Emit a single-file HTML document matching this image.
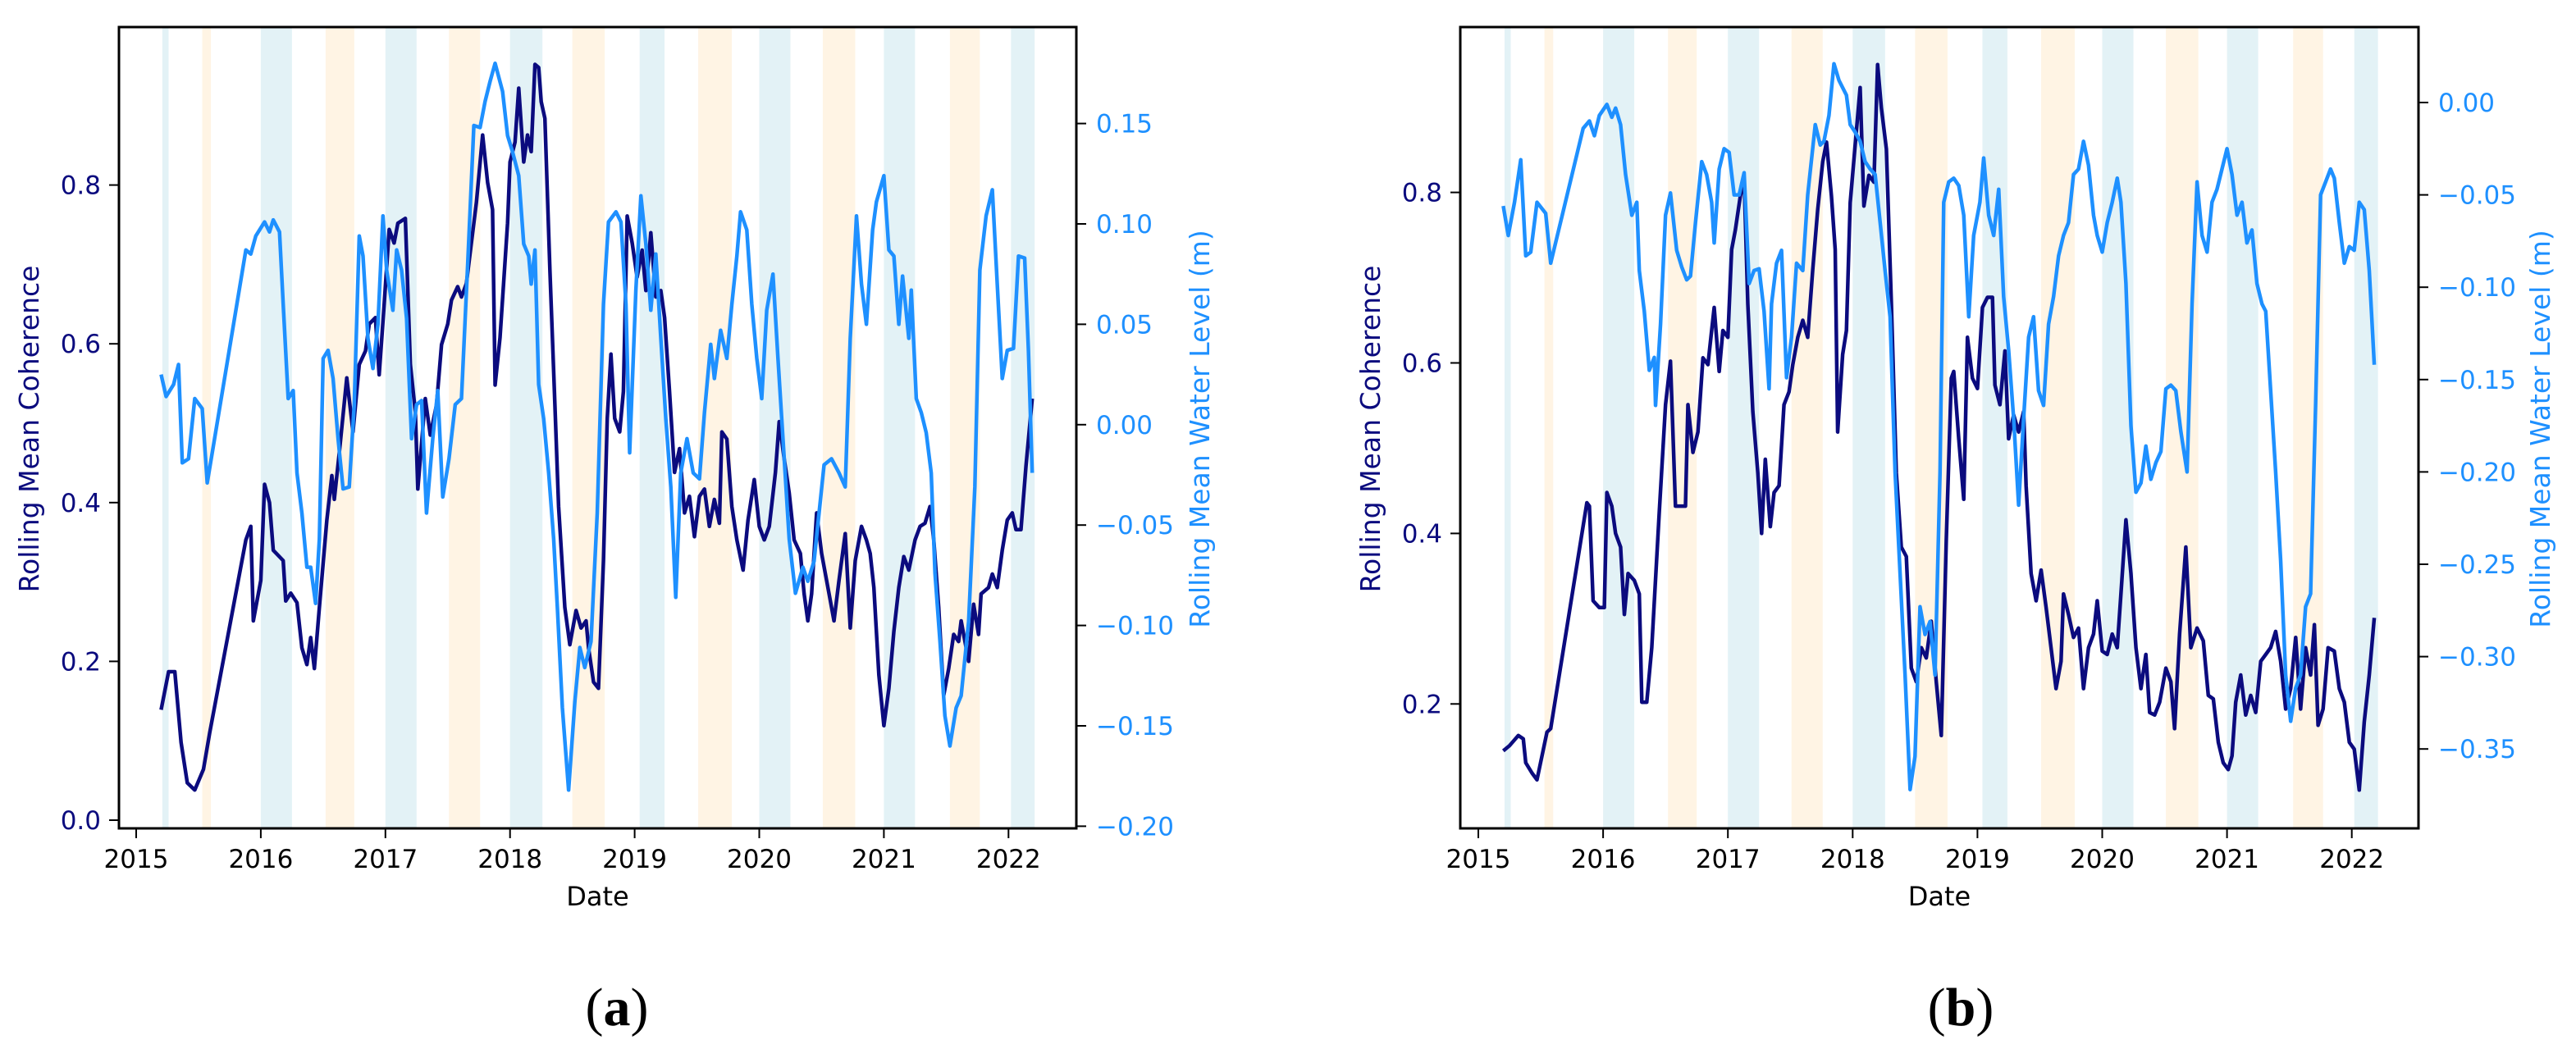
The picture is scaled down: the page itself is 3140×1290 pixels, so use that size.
<!DOCTYPE html>
<html><head><meta charset="utf-8"><style>
html,body{margin:0;padding:0;background:#fff;}
svg{display:block;font-family:"DejaVu Sans","Liberation Sans",sans-serif;}
</style></head><body>
<svg id="fig" width="3140" height="1290" viewBox="0 0 3140 1290" xmlns="http://www.w3.org/2000/svg"></svg>
<script>
// ---------- shared seasonal bands (decimal years) ----------
const cyanBandStart = [2015.21, 2016.0, 2017.0, 2018.0, 2019.04, 2020.0, 2021.0, 2022.02];
const cyanBandEnd   = [2015.26, 2016.25, 2017.25, 2018.26, 2019.24, 2020.25, 2021.25, 2022.21];
const orangeBandStart = [2015.53, 2016.52, 2017.51, 2018.5, 2019.51, 2020.51, 2021.53];
const orangeBandEnd   = [2015.6, 2016.75, 2017.76, 2018.76, 2019.78, 2020.77, 2021.77];
const yearTicks = [2015, 2016, 2017, 2018, 2019, 2020, 2021, 2022];

// ---------- chart (a) ----------
const aCohTicks = [0.0, 0.2, 0.4, 0.6, 0.8];
const aWatTicks = [0.15, 0.10, 0.05, 0.00, -0.05, -0.10, -0.15, -0.20];
const aCohT = [2015.20,2015.26,2015.31,2015.36,2015.41,2015.47,2015.54,2015.59,2015.88,2015.92,2015.94,2016.00,2016.03,2016.07,2016.10,2016.18,2016.20,2016.24,2016.29,2016.33,2016.37,2016.40,2016.43,2016.47,2016.53,2016.57,2016.59,2016.63,2016.69,2016.74,2016.79,2016.84,2016.87,2016.92,2016.95,2016.99,2017.03,2017.07,2017.10,2017.16,2017.20,2017.24,2017.26,2017.32,2017.36,2017.41,2017.45,2017.50,2017.53,2017.58,2017.61,2017.65,2017.73,2017.78,2017.82,2017.86,2017.88,2017.92,2017.98,2018.00,2018.04,2018.07,2018.11,2018.14,2018.17,2018.20,2018.23,2018.25,2018.28,2018.32,2018.36,2018.39,2018.44,2018.48,2018.53,2018.57,2018.61,2018.63,2018.67,2018.71,2018.75,2018.78,2018.81,2018.84,2018.88,2018.91,2018.94,2018.98,2019.02,2019.06,2019.09,2019.13,2019.17,2019.21,2019.24,2019.28,2019.32,2019.36,2019.40,2019.44,2019.48,2019.52,2019.56,2019.60,2019.64,2019.68,2019.70,2019.74,2019.78,2019.82,2019.87,2019.91,2019.96,2020.00,2020.04,2020.08,2020.13,2020.16,2020.20,2020.24,2020.28,2020.33,2020.36,2020.39,2020.42,2020.46,2020.50,2020.56,2020.60,2020.64,2020.69,2020.73,2020.77,2020.82,2020.86,2020.89,2020.92,2020.96,2021.00,2021.04,2021.08,2021.12,2021.16,2021.20,2021.25,2021.29,2021.33,2021.37,2021.40,2021.44,2021.48,2021.52,2021.56,2021.60,2021.62,2021.68,2021.72,2021.76,2021.78,2021.84,2021.87,2021.91,2021.95,2021.99,2022.03,2022.06,2022.10,2022.14,2022.19];
const aCohV = [0.139,0.187,0.187,0.098,0.047,0.038,0.064,0.11,0.353,0.37,0.251,0.302,0.423,0.40,0.34,0.327,0.276,0.286,0.274,0.217,0.196,0.23,0.191,0.268,0.378,0.434,0.404,0.463,0.557,0.489,0.574,0.591,0.625,0.633,0.561,0.650,0.744,0.727,0.752,0.758,0.574,0.514,0.417,0.531,0.485,0.523,0.599,0.625,0.655,0.672,0.659,0.676,0.778,0.863,0.803,0.769,0.548,0.608,0.752,0.829,0.854,0.922,0.829,0.863,0.842,0.952,0.948,0.905,0.884,0.693,0.523,0.395,0.268,0.221,0.264,0.242,0.251,0.217,0.174,0.166,0.327,0.506,0.587,0.506,0.489,0.540,0.761,0.727,0.684,0.718,0.667,0.740,0.659,0.667,0.633,0.540,0.438,0.468,0.387,0.408,0.357,0.408,0.417,0.370,0.404,0.374,0.489,0.480,0.395,0.353,0.315,0.378,0.429,0.370,0.353,0.370,0.438,0.502,0.455,0.412,0.353,0.336,0.285,0.251,0.285,0.387,0.336,0.285,0.251,0.302,0.361,0.242,0.327,0.370,0.353,0.336,0.293,0.183,0.119,0.166,0.238,0.293,0.332,0.315,0.353,0.370,0.374,0.395,0.353,0.268,0.157,0.191,0.234,0.225,0.251,0.200,0.272,0.234,0.285,0.293,0.310,0.293,0.340,0.378,0.387,0.366,0.366,0.446,0.531];
const aWatT = [2015.20,2015.24,2015.30,2015.34,2015.37,2015.42,2015.47,2015.53,2015.57,2015.88,2015.92,2015.96,2016.03,2016.07,2016.10,2016.15,2016.18,2016.22,2016.26,2016.29,2016.33,2016.37,2016.40,2016.44,2016.47,2016.50,2016.54,2016.58,2016.62,2016.66,2016.71,2016.75,2016.79,2016.82,2016.86,2016.90,2016.94,2016.98,2017.01,2017.06,2017.09,2017.13,2017.17,2017.21,2017.25,2017.29,2017.33,2017.38,2017.42,2017.46,2017.51,2017.56,2017.61,2017.66,2017.71,2017.76,2017.80,2017.84,2017.88,2017.94,2017.98,2018.02,2018.07,2018.11,2018.15,2018.17,2018.20,2018.23,2018.27,2018.31,2018.35,2018.38,2018.42,2018.47,2018.52,2018.56,2018.60,2018.65,2018.70,2018.75,2018.79,2018.85,2018.89,2018.93,2018.96,2019.01,2019.05,2019.09,2019.13,2019.17,2019.21,2019.25,2019.29,2019.33,2019.37,2019.42,2019.47,2019.52,2019.56,2019.61,2019.64,2019.69,2019.74,2019.78,2019.82,2019.85,2019.90,2019.94,2019.98,2020.02,2020.06,2020.11,2020.15,2020.19,2020.24,2020.29,2020.35,2020.39,2020.44,2020.48,2020.52,2020.58,2020.64,2020.69,2020.73,2020.78,2020.82,2020.86,2020.91,2020.94,2021.00,2021.04,2021.08,2021.12,2021.15,2021.20,2021.22,2021.26,2021.30,2021.34,2021.38,2021.41,2021.45,2021.49,2021.53,2021.58,2021.62,2021.68,2021.73,2021.77,2021.82,2021.87,2021.91,2021.95,2021.99,2022.04,2022.08,2022.13,2022.16,2022.19];
const aWatV = [0.025,0.014,0.020,0.030,-0.019,-0.017,0.013,0.008,-0.029,0.087,0.085,0.094,0.101,0.096,0.102,0.096,0.060,0.013,0.017,-0.024,-0.044,-0.071,-0.071,-0.089,-0.057,0.033,0.037,0.023,-0.007,-0.032,-0.031,0.010,0.094,0.084,0.043,0.028,0.050,0.104,0.077,0.057,0.087,0.077,0.053,-0.007,0.010,0.012,-0.044,-0.007,0.017,-0.036,-0.017,0.010,0.013,0.080,0.149,0.148,0.161,0.171,0.180,0.166,0.144,0.136,0.124,0.090,0.084,0.070,0.087,0.020,0.003,-0.024,-0.057,-0.091,-0.141,-0.182,-0.138,-0.111,-0.121,-0.108,-0.044,0.060,0.101,0.106,0.101,0.060,-0.014,0.067,0.114,0.090,0.057,0.085,0.043,0.003,-0.031,-0.086,-0.024,-0.007,-0.024,-0.027,0.006,0.040,0.023,0.047,0.033,0.060,0.084,0.106,0.097,0.060,0.033,0.013,0.057,0.075,0.033,-0.007,-0.057,-0.084,-0.071,-0.078,-0.068,-0.044,-0.020,-0.017,-0.024,-0.031,0.043,0.104,0.070,0.050,0.097,0.111,0.124,0.087,0.084,0.050,0.074,0.043,0.067,0.013,0.006,-0.004,-0.024,-0.074,-0.108,-0.145,-0.160,-0.141,-0.135,-0.098,-0.031,0.077,0.104,0.117,0.070,0.023,0.037,0.038,0.084,0.083,0.037,-0.024];

// ---------- chart (b) ----------
const bCohTicks = [0.2, 0.4, 0.6, 0.8];
const bWatTicks = [0.00, -0.05, -0.10, -0.15, -0.20, -0.25, -0.30, -0.35];
const bCohT = [2015.20,2015.25,2015.32,2015.36,2015.38,2015.43,2015.47,2015.51,2015.55,2015.58,2015.87,2015.89,2015.92,2015.97,2016.01,2016.03,2016.07,2016.10,2016.14,2016.17,2016.20,2016.25,2016.29,2016.31,2016.35,2016.39,2016.45,2016.50,2016.54,2016.58,2016.62,2016.66,2016.68,2016.72,2016.76,2016.80,2016.84,2016.87,2016.89,2016.93,2016.96,2017.00,2017.03,2017.06,2017.10,2017.13,2017.16,2017.20,2017.24,2017.27,2017.30,2017.34,2017.37,2017.41,2017.45,2017.49,2017.52,2017.56,2017.60,2017.64,2017.68,2017.72,2017.76,2017.79,2017.83,2017.86,2017.88,2017.92,2017.95,2017.98,2018.02,2018.06,2018.09,2018.13,2018.17,2018.20,2018.23,2018.27,2018.31,2018.35,2018.39,2018.43,2018.47,2018.51,2018.55,2018.59,2018.63,2018.67,2018.71,2018.75,2018.79,2018.81,2018.85,2018.89,2018.92,2018.96,2019.00,2019.04,2019.08,2019.12,2019.14,2019.18,2019.22,2019.25,2019.29,2019.33,2019.37,2019.39,2019.43,2019.47,2019.51,2019.55,2019.59,2019.63,2019.67,2019.69,2019.73,2019.77,2019.81,2019.85,2019.89,2019.93,2019.96,2020.00,2020.04,2020.08,2020.12,2020.15,2020.19,2020.23,2020.27,2020.31,2020.35,2020.38,2020.42,2020.46,2020.51,2020.55,2020.58,2020.62,2020.67,2020.71,2020.76,2020.81,2020.85,2020.89,2020.93,2020.97,2021.01,2021.04,2021.07,2021.11,2021.15,2021.19,2021.23,2021.27,2021.31,2021.35,2021.39,2021.43,2021.47,2021.51,2021.55,2021.59,2021.63,2021.67,2021.70,2021.73,2021.77,2021.81,2021.86,2021.90,2021.94,2021.98,2022.02,2022.06,2022.10,2022.14,2022.18];
const bCohV = [0.145,0.151,0.163,0.159,0.131,0.119,0.111,0.139,0.167,0.171,0.436,0.432,0.321,0.313,0.313,0.448,0.432,0.400,0.384,0.305,0.353,0.345,0.329,0.202,0.202,0.266,0.424,0.551,0.602,0.432,0.432,0.432,0.551,0.495,0.519,0.606,0.598,0.638,0.665,0.590,0.638,0.630,0.733,0.756,0.796,0.816,0.669,0.543,0.471,0.400,0.487,0.408,0.448,0.456,0.551,0.566,0.598,0.630,0.650,0.630,0.709,0.780,0.836,0.859,0.796,0.733,0.519,0.610,0.638,0.788,0.855,0.923,0.784,0.820,0.812,0.950,0.899,0.851,0.669,0.471,0.384,0.373,0.242,0.226,0.266,0.254,0.297,0.226,0.163,0.392,0.582,0.590,0.511,0.440,0.630,0.582,0.570,0.665,0.677,0.677,0.574,0.551,0.614,0.511,0.539,0.519,0.543,0.456,0.353,0.321,0.357,0.313,0.266,0.218,0.250,0.329,0.305,0.278,0.289,0.218,0.266,0.282,0.321,0.262,0.258,0.282,0.266,0.329,0.416,0.353,0.266,0.218,0.258,0.190,0.187,0.202,0.242,0.226,0.171,0.282,0.384,0.266,0.289,0.274,0.210,0.206,0.155,0.131,0.123,0.139,0.202,0.234,0.187,0.210,0.190,0.250,0.258,0.266,0.285,0.250,0.194,0.218,0.278,0.194,0.266,0.234,0.293,0.175,0.194,0.266,0.262,0.218,0.202,0.155,0.147,0.099,0.179,0.234,0.301];
const bWatT = [2015.20,2015.24,2015.29,2015.34,2015.38,2015.42,2015.47,2015.54,2015.58,2015.84,2015.89,2015.93,2015.97,2016.03,2016.07,2016.10,2016.14,2016.18,2016.23,2016.27,2016.29,2016.33,2016.37,2016.41,2016.42,2016.46,2016.50,2016.54,2016.59,2016.63,2016.67,2016.70,2016.74,2016.79,2016.83,2016.87,2016.89,2016.93,2016.97,2017.01,2017.05,2017.09,2017.13,2017.17,2017.21,2017.25,2017.29,2017.33,2017.35,2017.39,2017.43,2017.47,2017.51,2017.55,2017.60,2017.64,2017.70,2017.74,2017.77,2017.81,2017.85,2017.89,2017.95,2017.98,2018.02,2018.06,2018.10,2018.14,2018.18,2018.22,2018.26,2018.30,2018.34,2018.38,2018.42,2018.46,2018.50,2018.54,2018.58,2018.62,2018.66,2018.70,2018.73,2018.77,2018.81,2018.85,2018.89,2018.93,2018.97,2019.02,2019.05,2019.09,2019.13,2019.17,2019.21,2019.25,2019.29,2019.33,2019.37,2019.41,2019.45,2019.49,2019.53,2019.57,2019.61,2019.65,2019.69,2019.73,2019.77,2019.81,2019.85,2019.89,2019.93,2019.96,2020.00,2020.04,2020.08,2020.12,2020.15,2020.19,2020.23,2020.27,2020.31,2020.35,2020.39,2020.43,2020.47,2020.51,2020.55,2020.59,2020.63,2020.68,2020.72,2020.76,2020.80,2020.84,2020.88,2020.92,2020.96,2021.00,2021.04,2021.08,2021.12,2021.16,2021.20,2021.24,2021.28,2021.31,2021.35,2021.39,2021.43,2021.47,2021.51,2021.55,2021.59,2021.63,2021.67,2021.71,2021.75,2021.79,2021.83,2021.86,2021.90,2021.94,2021.98,2022.02,2022.06,2022.10,2022.14,2022.18];
const bWatV = [-0.056,-0.072,-0.054,-0.031,-0.083,-0.081,-0.054,-0.060,-0.087,-0.014,-0.010,-0.018,-0.007,-0.001,-0.008,-0.003,-0.012,-0.039,-0.061,-0.054,-0.091,-0.113,-0.145,-0.138,-0.164,-0.120,-0.061,-0.049,-0.080,-0.089,-0.096,-0.094,-0.065,-0.032,-0.039,-0.054,-0.076,-0.036,-0.025,-0.027,-0.050,-0.050,-0.038,-0.098,-0.091,-0.090,-0.113,-0.155,-0.109,-0.087,-0.080,-0.149,-0.127,-0.087,-0.091,-0.050,-0.012,-0.023,-0.021,-0.007,0.021,0.012,0.004,-0.012,-0.016,-0.021,-0.032,-0.036,-0.039,-0.065,-0.091,-0.116,-0.200,-0.255,-0.310,-0.372,-0.354,-0.273,-0.288,-0.281,-0.310,-0.200,-0.054,-0.043,-0.041,-0.045,-0.061,-0.116,-0.072,-0.054,-0.030,-0.061,-0.072,-0.047,-0.105,-0.134,-0.171,-0.218,-0.171,-0.127,-0.116,-0.156,-0.164,-0.120,-0.105,-0.083,-0.072,-0.065,-0.039,-0.036,-0.021,-0.034,-0.061,-0.072,-0.081,-0.065,-0.054,-0.041,-0.054,-0.098,-0.175,-0.211,-0.206,-0.186,-0.204,-0.195,-0.189,-0.155,-0.153,-0.156,-0.178,-0.200,-0.109,-0.043,-0.072,-0.081,-0.054,-0.047,-0.036,-0.025,-0.039,-0.061,-0.054,-0.076,-0.069,-0.098,-0.109,-0.113,-0.156,-0.200,-0.248,-0.310,-0.335,-0.317,-0.310,-0.273,-0.266,-0.164,-0.050,-0.043,-0.036,-0.041,-0.065,-0.087,-0.078,-0.080,-0.054,-0.058,-0.091,-0.142];

const NS = 'http://www.w3.org/2000/svg';
const svg = document.getElementById('fig');
function mk(tag, attrs, parent, text) {
  const e = document.createElementNS(NS, tag);
  for (const k in attrs) e.setAttribute(k, attrs[k]);
  if (text !== undefined) e.textContent = text;
  (parent || svg).appendChild(e);
  return e;
}
function fmt(v, d) { const s = Math.abs(v).toFixed(d); return (v < -1e-9 ? '\u2212' : '') + s; }

function drawChart(cfg) {
  const g = mk('g', {});
  
  
  const X = yr => cfg.x0 + (yr - 2015) * cfg.xPerYear;
  const YL = v => cfg.yl0 + (cfg.ylRef - v) * cfg.ylScale;
  const YR = v => cfg.yr0 + (cfg.yrRef - v) * cfg.yrScale;
  const L = cfg.left, R = cfg.right, T = 33, B = 1010;
  for (let i = 0; i < cyanBandStart.length; i++) {
    const r = mk('rect', {x: X(cyanBandStart[i]), y: T, width: X(cyanBandEnd[i]) - X(cyanBandStart[i]), height: B - T, fill: '#e3f2f6'}, g);
    
    
  }
  for (let i = 0; i < orangeBandStart.length; i++) {
    const r = mk('rect', {x: X(orangeBandStart[i]), y: T, width: X(orangeBandEnd[i]) - X(orangeBandStart[i]), height: B - T, fill: '#fff4e4'}, g);
    
    
  }
  const cohPts = cfg.cohT.map((t, i) => X(t).toFixed(1) + ',' + YL(cfg.cohV[i]).toFixed(1)).join(' ');
  const watPts = cfg.watT.map((t, i) => X(t).toFixed(1) + ',' + YR(cfg.watV[i]).toFixed(1)).join(' ');
  const lc = mk('polyline', {points: cohPts, fill: 'none', stroke: '#0b0b7e', 'stroke-width': 4.5, 'stroke-linejoin': 'round'}, g);
  
  
  const lw = mk('polyline', {points: watPts, fill: 'none', stroke: '#1e90ff', 'stroke-width': 4.5, 'stroke-linejoin': 'round'}, g);
  
  
  const fr = mk('rect', {x: L, y: T, width: R - L, height: B - T, fill: 'none', stroke: '#000', 'stroke-width': 3}, g);
  
  
  yearTicks.forEach(yr => {
    mk('line', {x1: X(yr), x2: X(yr), y1: B, y2: B + 12, stroke: '#000', 'stroke-width': 2}, g);
    const t = mk('text', {x: X(yr), y: 1058, 'font-size': 31, 'text-anchor': 'middle', fill: '#000'}, g, String(yr));
    
    
  });
  const xt = mk('text', {x: (L + R) / 2, y: 1104, 'font-size': 32, 'text-anchor': 'middle', fill: '#000'}, g, 'Date');
  
  
  cfg.cohTicks.forEach(v => {
    mk('line', {x1: L - 12, x2: L, y1: YL(v), y2: YL(v), stroke: '#000', 'stroke-width': 2}, g);
    const t = mk('text', {x: L - 22, y: YL(v) + 11, 'font-size': 31, 'text-anchor': 'end', fill: '#0b0b7e'}, g, v.toFixed(1));
    
    
  });
  cfg.watTicks.forEach(v => {
    mk('line', {x1: R, x2: R + 12, y1: YR(v), y2: YR(v), stroke: '#000', 'stroke-width': 2}, g);
    const t = mk('text', {x: R + 24, y: YR(v) + 11, 'font-size': 31, 'text-anchor': 'start', fill: '#1e90ff'}, g, fmt(v, 2));
    
    
  });
  const ly = mk('text', {x: 0, y: 0, 'font-size': 33, 'text-anchor': 'middle', fill: '#0b0b7e', transform: 'translate(' + cfg.lLabelX + ',523) rotate(-90)'}, g, 'Rolling Mean Coherence');
  
  
  const ry = mk('text', {x: 0, y: 0, 'font-size': 33, 'text-anchor': 'middle', fill: '#1e90ff', transform: 'translate(' + cfg.rLabelX + ',523) rotate(-90)'}, g, 'Rolling Mean Water Level (m)');
  
  
  const cap = mk('text', {x: cfg.capX, y: 1250, 'font-size': 66, 'text-anchor': 'middle', fill: '#000', 'font-family': '"Liberation Serif", serif'}, g);
  mk('tspan', {}, cap, '(');
  mk('tspan', {'font-weight': 'bold'}, cap, cfg.cap);
  mk('tspan', {}, cap, ')');
  
  
}

drawChart({name: 'chart-a', left: 145, right: 1312, x0: 166, xPerYear: 151.9,
  yl0: 1000, ylRef: 0, ylScale: 968, yr0: 150.6, yrRef: 0.15, yrScale: 2448,
  cohT: aCohT, cohV: aCohV, watT: aWatT, watV: aWatV, cohTicks: aCohTicks, watTicks: aWatTicks,
  lLabelX: 47, rLabelX: 1474, capX: 752, cap: 'a'});
drawChart({name: 'chart-b', left: 1780, right: 2948, x0: 1802, xPerYear: 152.1,
  yl0: 234.6, ylRef: 0.8, ylScale: 1039.5, yr0: 125, yrRef: 0, yrScale: 2252,
  cohT: bCohT, cohV: bCohV, watT: bWatT, watV: bWatV, cohTicks: bCohTicks, watTicks: bWatTicks,
  lLabelX: 1682, rLabelX: 3108, capX: 2390, cap: 'b'});
</script>
</body></html>
